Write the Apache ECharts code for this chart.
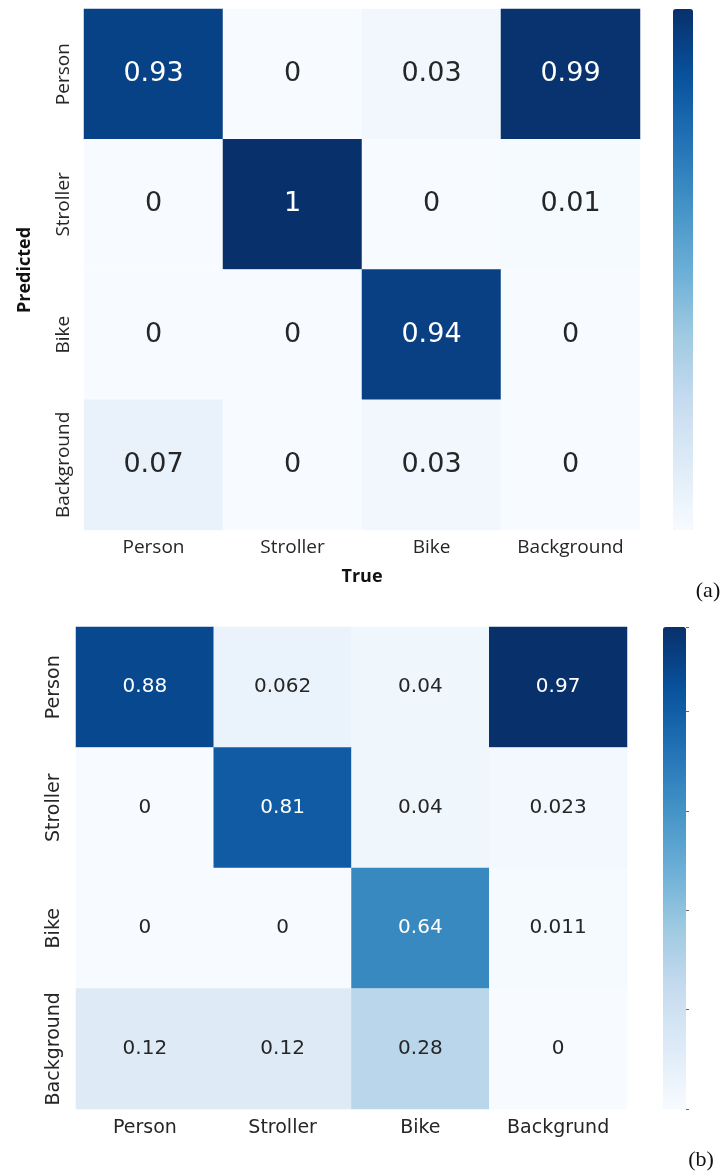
<!DOCTYPE html>
<html>
<head>
<meta charset="utf-8">
<script src="https://cdn.jsdelivr.net/npm/echarts@6/dist/echarts.min.js"></script>
<style>
html,body{margin:0;padding:0;background:#fff;}
#chart{width:725px;height:1176px;}
</style>
</head>
<body>
<div id="chart"></div>
<script>
// ---- data ----
const rowLabels = ['Person', 'Stroller', 'Bike', 'Background'];
const colLabelsA = ['Person', 'Stroller', 'Bike', 'Background'];
const colLabelsB = ['Person', 'Stroller', 'Bike', 'Backgrund'];
// rows = Predicted, columns = True
const matrixA_Person = [0.93, 0, 0.03, 0.99];
const matrixA_Stroller = [0, 1, 0, 0.01];
const matrixA_Bike = [0, 0, 0.94, 0];
const matrixA_Background = [0.07, 0, 0.03, 0];
const matrixB_Person = [0.88, 0.062, 0.04, 0.97];
const matrixB_Stroller = [0, 0.81, 0.04, 0.023];
const matrixB_Bike = [0, 0, 0.64, 0.011];
const matrixB_Background = [0.12, 0.12, 0.28, 0];
const scaleMaxA = 1;
const scaleMaxB = 0.97;
const colorbarTickStepB = 0.2;

const blues = ['#f7fbff','#deebf7','#c6dbef','#9ecae1','#6baed6','#4292c6','#2171b5','#08519c','#08306b'];

function toCells(rows, maxV) {
  const out = [];
  rows.forEach((row, r) => row.forEach((v, c) => {
    out.push({ value: [c, r, v], label: { color: v > maxV * 0.5 ? '#ffffff' : '#262626' } });
  }));
  return out;
}
const cellsA = toCells([matrixA_Person, matrixA_Stroller, matrixA_Bike, matrixA_Background], scaleMaxA);
const cellsB = toCells([matrixB_Person, matrixB_Stroller, matrixB_Bike, matrixB_Background], scaleMaxB);

const chart = echarts.init(document.getElementById('chart'), null, { renderer: 'canvas' });

const labelFontA = '"Open Sans", "Noto Sans", sans-serif';
const dv = '"DejaVu Sans", sans-serif';

const option = {
  backgroundColor: '#ffffff',
  animation: false,
  grid: [
    { left: 84, top: 9, width: 556, height: 521 },
    { left: 76, top: 627, width: 551, height: 482 },
    { left: 663, top: 627, width: 23, height: 482 }
  ],
  xAxis: [
    { type: 'category', gridIndex: 0, data: colLabelsA, position: 'bottom',
      axisLine: { show: false }, axisTick: { show: false },
      axisLabel: { interval: 0, fontFamily: labelFontA, fontSize: 19, color: '#262626', margin: 8 } },
    { type: 'category', gridIndex: 1, data: colLabelsB, position: 'bottom',
      axisLine: { show: false }, axisTick: { show: false },
      axisLabel: { interval: 0, fontFamily: dv, fontSize: 19, color: '#262626', margin: 10 } },
    { type: 'value', gridIndex: 2, show: false, min: 0, max: 1 }
  ],
  yAxis: [
    { type: 'category', gridIndex: 0, data: rowLabels, inverse: true,
      axisLine: { show: false }, axisTick: { show: false },
      axisLabel: { interval: 0, fontFamily: labelFontA, fontSize: 19, color: '#262626', rotate: 90, margin: 11 } },
    { type: 'category', gridIndex: 1, data: rowLabels, inverse: true,
      axisLine: { show: false }, axisTick: { show: false },
      axisLabel: { interval: 0, fontFamily: dv, fontSize: 19, color: '#262626', rotate: 90, margin: 12 } },
    { type: 'value', gridIndex: 2, position: 'right', min: 0, max: scaleMaxB, interval: colorbarTickStepB,
      axisLine: { show: false, onZero: false }, splitLine: { show: false },
      axisTick: { show: true, length: 3, lineStyle: { color: '#666', width: 1 } },
      axisLabel: { show: false } }
  ],
  visualMap: [
    { type: 'continuous', seriesIndex: 0, min: 0, max: scaleMaxA, calculable: false,
      orient: 'vertical', left: 673, top: 9, itemWidth: 20, itemHeight: 521, padding: 0,
      text: null, hoverLink: false, inRange: { color: blues }, textStyle: { color: 'transparent' } },
    { type: 'continuous', seriesIndex: 1, min: 0, max: scaleMaxB, calculable: false,
      orient: 'vertical', left: 663, top: 627, itemWidth: 23, itemHeight: 482, padding: 0,
      text: null, hoverLink: false, inRange: { color: blues }, textStyle: { color: 'transparent' } }
  ],
  series: [
    { type: 'heatmap', xAxisIndex: 0, yAxisIndex: 0, data: cellsA,
      itemStyle: { borderWidth: 0 },
      label: { show: true, fontFamily: dv, fontSize: 27,
        formatter: p => String(p.value[2]) } },
    { type: 'heatmap', xAxisIndex: 1, yAxisIndex: 1, data: cellsB,
      itemStyle: { borderWidth: 0 },
      label: { show: true, fontFamily: dv, fontSize: 20,
        formatter: p => String(p.value[2]) } },
    { type: 'line', xAxisIndex: 2, yAxisIndex: 2, data: [] }
  ],
  graphic: [
    { type: 'text', x: 25, y: 270, rotation: Math.PI / 2,
      style: { text: 'Predicted', fontFamily: labelFontA, fontWeight: 'bold', fontSize: 18,
        fill: '#111', textAlign: 'center', textVerticalAlign: 'middle' } },
    { type: 'text', x: 362, y: 577,
      style: { text: 'True', fontFamily: labelFontA, fontWeight: 'bold', fontSize: 18,
        fill: '#111', textAlign: 'center', textVerticalAlign: 'middle' } },
    { type: 'text', x: 708, y: 591,
      style: { text: '(a)', fontFamily: '"Liberation Serif", serif', fontSize: 22,
        fill: '#111', textAlign: 'center', textVerticalAlign: 'middle' } },
    { type: 'text', x: 701, y: 1160,
      style: { text: '(b)', fontFamily: '"Liberation Serif", serif', fontSize: 22,
        fill: '#111', textAlign: 'center', textVerticalAlign: 'middle' } }
  ]
};
chart.setOption(option);
</script>
</body>
</html>
